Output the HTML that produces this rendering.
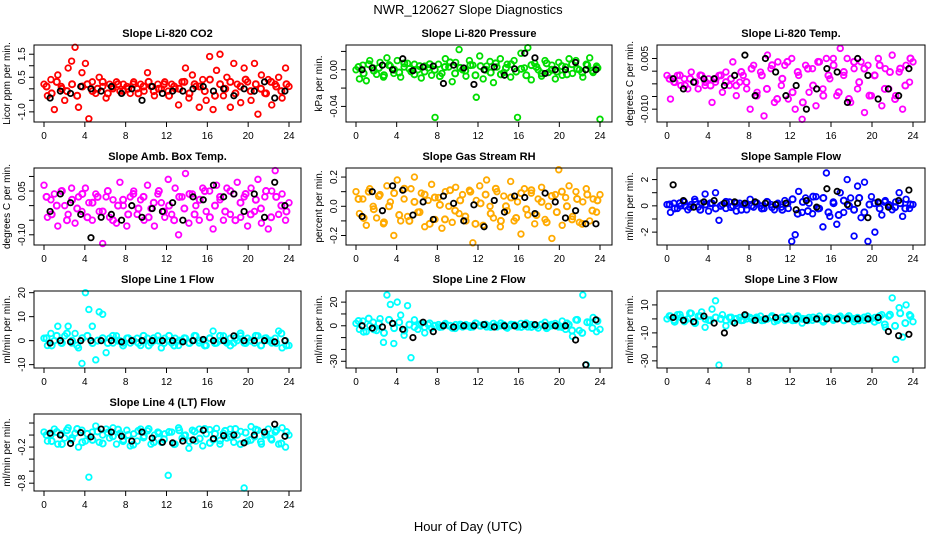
<!DOCTYPE html>
<html><head><meta charset="utf-8"><style>
html,body{margin:0;padding:0;background:#fff;}
svg{display:block;font-family:"Liberation Sans",Arial,sans-serif;}
</style></head><body>
<svg id="chart" width="936" height="540" viewBox="0 0 936 540" xmlns="http://www.w3.org/2000/svg">
<rect x="0" y="0" width="936" height="540" fill="#fff"/>
<text x="468" y="14" font-size="13" text-anchor="middle">NWR_120627  Slope Diagnostics</text>
<text x="468" y="531" font-size="13" text-anchor="middle">Hour of Day (UTC)</text>
</svg>
<script>
const blackHours=[0.6,1.6,2.6,3.6,4.6,5.6,6.6,7.6,8.6,9.6,10.6,11.6,12.6,13.6,14.6,15.6,16.6,17.6,18.6,19.6,20.6,21.6,22.6,23.6];
const xTicks=[0,4,8,12,16,20,24];

const co2Vals=[0.2,-0.3,0.4,-0.9,0.6,0.1,-0.5,0.9,1.2,1.8,-0.8,0.7,1.1,-1.3,0.3,-0.2,0.5,0.1,-0.4,0.2,0.0,0.3,-0.1,0.2,0.1,-0.2,0.3,0.0,0.2,-0.1,0.7,0.1,-0.3,0.2,0.0,0.3,-0.1,0.2,0.0,-0.7,0.3,0.9,-0.4,0.6,0.1,-0.8,0.4,-0.5,1.4,-0.9,0.8,1.5,-0.3,0.5,-0.8,1.1,0.2,-0.6,0.9,0.3,-0.5,1.1,-1.1,0.6,-0.2,0.4,-0.7,0.2,0.5,-0.4,0.9,0.1];
const co2Core=[0.1,-0.2,0.3,0.0,-0.1,0.2,-0.3,0.1,0.2,-0.1,0.0,0.3,-0.2,0.1,0.2,-0.1,0.0,0.2,-0.2,0.1,0.3,-0.1,0.0,0.2,-0.3,0.1,0.0,0.3,-0.2,0.2,0.1,-0.1,0.4,-0.3,0.2,0.0,0.3,-0.2,0.1,0.4,-0.1,0.2,0.0,-0.2,0.3,0.1,-0.1,0.2];
const co2Black=[-0.4,-0.1,-0.2,0.1,0.0,-0.1,0.1,-0.2,0.0,-0.5,0.1,-0.2,-0.1,-0.1,0.0,0.1,-0.1,0.0,-0.3,0.0,-0.1,0.3,-0.4,-0.1];

const presVals=[0.0,-0.01,0.005,-0.012,0.01,0.002,-0.005,0.008,-0.008,0.013,0.004,-0.004,0.01,-0.008,0.003,0.007,-0.002,0.006,0.0,-0.009,0.004,0.002,-0.006,-0.052,0.006,-0.004,0.012,0.003,-0.013,0.008,0.022,0.0,-0.007,0.01,0.005,-0.03,0.015,-0.01,0.004,0.009,-0.014,0.003,0.012,-0.003,0.006,-0.008,0.01,-0.052,0.018,0.002,0.024,-0.011,0.007,0.0,-0.007,0.01,-0.003,0.005,-0.01,0.008,-0.006,0.003,0.012,-0.004,0.01,0.0,-0.008,0.006,0.013,-0.003,0.004,-0.054];
const presCore=[0.003,-0.004,0.006,-0.001,0.002,-0.006,0.005,0.0,-0.003,0.007,0.001,-0.005,0.004,-0.002,0.006,0.0,-0.007,0.003,0.008,-0.004,0.002,-0.001,0.005,-0.006,0.004,0.0,-0.003,0.007,-0.005,0.002,0.006,-0.002,0.001,-0.006,0.005,0.003,-0.004,0.007,0.0,-0.002,0.004,-0.005,0.006,0.001,-0.003,0.005,-0.001,0.002];
const presBlack=[0.0,0.002,0.005,0.0,0.012,-0.001,0.003,0.004,-0.015,0.005,0.002,-0.016,0.0,0.003,-0.006,0.001,0.018,0.013,-0.004,0.0,0.0,0.008,0.0,0.0];

const liTempVals=[0.0,-0.007,-0.002,0.0,-0.003,-0.001,-0.004,0.001,-0.002,-0.004,0.0,-0.003,-0.001,-0.008,-0.002,0.0,-0.005,0.001,-0.003,0.004,-0.006,-0.002,0.0,-0.004,-0.01,0.003,-0.005,0.001,-0.012,0.006,0.002,-0.008,0.004,-0.003,0.003,-0.007,0.005,-0.01,0.0,-0.013,0.003,-0.005,0.002,-0.009,0.004,-0.004,0.005,-0.001,0.005,-0.006,0.008,0.0,0.005,-0.008,0.002,-0.004,0.004,-0.011,0.003,-0.006,0.0,0.005,-0.009,0.002,-0.004,0.006,-0.006,0.001,-0.01,0.003,-0.002,0.004];
const liTempCore=[-0.001,-0.002,0.0,-0.003,-0.001,-0.002,0.0,-0.002,-0.003,-0.001,0.0,-0.002,-0.001,-0.003,0.001,-0.002,0.002,-0.006,0.0,-0.004,0.003,-0.007,-0.001,0.004,-0.005,0.001,-0.008,0.002,-0.003,0.004,-0.006,0.0,0.003,-0.005,0.001,-0.007,0.004,-0.002,0.002,-0.006,0.0,0.003,-0.004,0.001,-0.007,0.002,-0.003,0.005];
const liTempBlack=[-0.001,-0.004,-0.002,-0.001,-0.001,-0.003,0.0,0.006,-0.006,0.005,0.001,-0.006,-0.003,-0.01,-0.004,0.002,0.001,-0.008,0.005,0.0,-0.007,-0.004,-0.006,0.002];

const ambVals=[0.07,-0.04,0.02,0.04,-0.07,0.05,0.0,-0.03,0.06,-0.06,0.03,-0.02,0.06,0.01,-0.05,0.04,-0.02,-0.13,0.03,-0.04,0.02,-0.06,0.08,0.0,-0.07,0.03,0.05,-0.03,0.02,-0.05,0.07,-0.01,-0.07,0.04,0.01,-0.04,0.09,-0.03,0.06,-0.1,0.03,0.11,-0.06,0.04,0.0,-0.05,0.06,-0.02,0.05,-0.08,0.07,0.02,-0.05,0.06,-0.03,0.04,0.08,-0.04,0.03,-0.07,0.06,-0.02,0.09,-0.06,0.03,-0.08,0.05,0.12,-0.03,0.04,-0.05,0.01];
const ambCore=[0.03,-0.03,0.0,0.05,-0.05,0.02,-0.01,0.04,-0.04,0.01,0.03,-0.02,0.05,-0.05,0.0,0.02,-0.03,0.04,-0.01,0.03,-0.04,0.01,0.05,-0.02,0.0,-0.05,0.03,-0.01,0.04,-0.03,0.02,0.05,-0.04,0.0,0.03,-0.02,0.05,-0.05,0.01,0.04,-0.03,0.02,-0.01,0.05,-0.04,0.03,0.0,-0.02];
const ambBlack=[-0.02,0.04,0.01,-0.03,-0.11,-0.04,-0.03,-0.05,0.0,-0.04,-0.01,-0.02,0.01,-0.05,0.03,0.02,0.07,0.03,0.04,-0.02,0.04,-0.04,0.08,0.0];

const rhVals=[0.1,-0.05,0.05,-0.13,0.12,0.0,-0.08,0.08,-0.12,0.14,0.03,-0.2,0.18,-0.1,0.05,-0.07,0.12,0.2,-0.04,0.09,-0.14,0.04,0.15,-0.09,0.06,-0.15,0.1,0.0,-0.11,0.13,-0.05,0.08,-0.1,0.11,-0.25,0.04,0.14,-0.13,0.18,0.0,-0.08,0.1,-0.14,0.07,-0.03,0.17,-0.1,0.03,-0.19,0.12,-0.06,0.09,-0.12,0.05,0.13,-0.09,0.0,-0.22,0.08,0.25,-0.13,0.06,0.14,-0.07,0.1,-0.11,0.03,0.12,-0.1,0.05,-0.04,0.08];
const rhCore=[0.05,-0.08,0.1,-0.02,0.07,-0.11,0.0,0.09,-0.06,0.12,-0.1,0.03,-0.04,0.08,-0.12,0.06,0.01,-0.09,0.11,-0.03,0.04,-0.07,0.1,-0.12,0.02,0.08,-0.05,0.12,-0.1,0.0,0.06,-0.08,0.09,-0.02,0.11,-0.06,0.03,-0.11,0.07,-0.04,0.1,0.0,-0.09,0.05,-0.12,0.08,-0.03,0.04];
const rhBlack=[-0.07,0.1,-0.03,0.14,0.11,-0.06,0.03,-0.09,0.07,0.02,-0.1,0.01,-0.14,0.04,-0.04,0.07,0.06,-0.05,0.09,0.03,-0.08,-0.03,-0.12,-0.12];

const sampleVals=[0.1,-0.5,0.2,-0.2,0.0,0.3,-0.3,0.1,0.5,-0.1,0.2,0.9,-0.4,0.2,1.0,-1.1,0.1,-0.2,0.3,0.0,-0.4,0.2,0.1,-0.3,0.5,-0.1,0.2,0.0,-0.2,0.3,0.1,-0.3,0.2,-0.1,0.4,-0.2,-2.7,-2.2,1.1,-0.5,0.6,0.2,-0.6,0.7,-0.2,-1.6,2.5,-0.8,0.3,-1.4,1.0,-0.5,2.0,0.6,-2.3,1.5,-0.9,1.8,-2.7,0.7,-2.0,0.2,-0.7,0.4,0.1,-0.3,0.3,1.0,-0.8,0.5,-0.2,0.1];
const sampleCore=[0.1,-0.2,0.2,0.0,-0.1,0.3,-0.3,0.1,0.2,-0.2,0.0,0.3,-0.1,0.2,-0.3,0.1,0.0,0.2,-0.2,0.3,-0.1,0.1,-0.3,0.2,0.5,-0.6,0.3,-0.4,0.7,-0.2,0.6,-0.5,0.2,-0.7,0.4,0.0,-0.3,0.6,-0.5,0.1,0.2,-0.2,0.3,0.0,-0.1,0.2,-0.2,0.1];
const sampleBlack=[1.6,0.4,-0.1,0.3,0.4,0.2,0.3,0.2,0.3,0.2,0.1,0.2,-0.3,0.4,-0.1,1.3,1.1,0.1,0.2,-0.9,0.3,-0.1,0.4,1.2];

const line1Vals=[1,-2,3,0,6,-1,2,6,-1,3,-3,-9.5,20,13,6,-8,12,11,-5,1,-1,2,0,-1,1,-1,0,1,-2,0,1,-1,0,2,-3,1,0,-1,1,-2,0,1,-1,0,2,-1,0,-2,1,4,-1,0,2,-1,1,-1,0,2,-1,1,0,-1,2,-2,1,0,-1,1,4,-3,0,-2];
const line1Core=[1,-2,2,-1,3,0,-2,1,2,-1,0,1,-1,2,0,-2,1,0,-1,2,-2,1,0,-1,2,-2,0,1,-1,2,0,-2,1,-1,2,0,-2,1,3,-1,0,2,-2,1,0,-1,3,-2];
const line1Black=[-1,0,-0.5,0,0,0,0,-0.5,0,0,0,0,0,-0.5,0,0.5,0,0,2,0,0,0,-0.5,0];

const line2Vals=[2,-3,4,-5,0,3,-4,6,-14,26,18,-15,20,9,-8,17,-27,5,-3,2,-6,1,-2,0,1,-1,2,0,-2,1,0,-1,1,0,-1,2,0,1,-1,0,2,-1,0,1,-2,0,1,-1,2,0,-1,1,0,-2,1,3,-1,0,2,-1,4,-3,1,-9,5,-4,26,-33,3,7,-5,-3];
const line2Core=[4,-5,6,-3,2,-6,5,-2,3,-4,1,-1,1,-1,2,0,-1,1,0,-2,1,0,-1,2,0,1,-1,0,2,-1,1,0,-1,2,-1,0,1,-2,1,0,-1,2,-4,5,-6,3,-2,4];
const line2Black=[0,-2,-1,2,-3,-10,3,-5,0,-1,0,0,1,-1,0,0,1,1,0,0,0,-12,-33,5];

const line3Vals=[0,2,-1,3,1,-2,0,4,-3,2,5,-6,-1,7,13,-33,3,-5,1,-2,0,1,-1,0,1,-1,0,2,-1,0,1,-2,0,1,-1,2,0,-1,1,-3,0,1,-1,0,2,-1,0,1,-1,0,2,-1,1,0,-2,1,0,-1,2,0,1,-1,3,-6,2,15,-29,8,-13,10,3,-2];
const line3Core=[2,-2,3,-1,4,-3,2,0,-1,1,0,-1,1,0,-1,2,0,1,-1,0,2,-1,1,0,-1,2,0,-1,1,0,-2,1,0,1,-1,2,0,-1,1,0,-2,2,-4,3,-5,4,-3,2];
const line3Black=[1,-1,-2,2,-3,-10,-3,3,-1,0,1,0,0,-1,0,0,0,0,0,0,1,-9,-12,-11];

const line4Vals=[0.05,-0.1,0.0,0.1,-0.15,0.02,-0.05,0.12,-0.08,0.03,-0.2,0.08,-0.1,-0.7,0.05,0.15,-0.12,0.0,0.1,-0.05,0.12,-0.15,0.03,-0.08,0.08,-0.18,0.02,-0.1,0.1,-0.02,0.07,-0.15,0.0,0.05,-0.12,0.02,-0.67,0.05,-0.15,0.12,-0.05,0.0,-0.22,0.08,-0.1,0.1,-0.18,0.02,0.09,-0.08,0.11,-0.15,0.03,-0.05,0.1,-0.12,0.0,0.06,-0.88,-0.1,0.14,-0.03,0.08,-0.15,0.0,0.1,-0.08,0.05,-0.15,0.12,-0.2,0.0];
const line4Core=[0.0,-0.1,0.05,-0.15,0.08,-0.05,0.1,-0.12,0.02,-0.08,0.06,-0.14,0.04,-0.02,0.09,-0.1,0.0,-0.16,0.07,-0.04,0.1,-0.12,0.03,-0.07,0.05,-0.15,0.08,-0.01,-0.1,0.06,-0.06,0.1,-0.13,0.02,-0.09,0.07,-0.03,0.1,-0.15,0.04,-0.08,0.09,-0.11,0.01,-0.06,0.08,-0.14,0.05];
const line4Black=[0.03,0.0,-0.14,0.04,-0.03,0.1,0.05,-0.02,-0.1,0.05,-0.05,-0.12,-0.13,-0.1,-0.08,0.08,-0.06,-0.01,0.0,-0.13,0.0,0.05,0.18,-0.02];

const panels=[
 {name:'co2',title:'Slope Li-820 CO2',ylab:'Licor ppm per min.',col:0,row:0,ymin:-1.44,ymax:1.9,ticks:[-1,-0.5,0,0.5,1,1.5],labels:{'1.5':'1.5','0.5':'0.5','-1':'-1.0'},color:'#ff0000',vals:co2Vals,core:co2Core,black:co2Black},
 {name:'pressure',title:'Slope Li-820 Pressure',ylab:'kPa per min.',col:1,row:0,ymin:-0.057,ymax:0.027,ticks:[-0.04,-0.02,0,0.02],labels:{'0':'0.00','-0.04':'-0.04'},color:'#00dd00',vals:presVals,core:presCore,black:presBlack},
 {name:'li-temp',title:'Slope Li-820 Temp.',ylab:'degrees C per min.',col:2,row:0,ymin:-0.0138,ymax:0.009,ticks:[0.005,0.00125,-0.0025,-0.00625,-0.01],labels:{'0.005':'0.005','-0.01':'-0.010'},color:'#ff00ff',vals:liTempVals,core:liTempCore,black:liTempBlack},
 {name:'amb-temp',title:'Slope Amb. Box Temp.',ylab:'degrees C per min.',col:0,row:1,ymin:-0.135,ymax:0.129,ticks:[-0.1,-0.05,0,0.05,0.1],labels:{'0.05':'0.05','-0.1':'-0.10'},color:'#ff00ff',vals:ambVals,core:ambCore,black:ambBlack},
 {name:'rh',title:'Slope Gas Stream RH',ylab:'percent per min.',col:1,row:1,ymin:-0.265,ymax:0.262,ticks:[-0.2,-0.1,0,0.1,0.2],labels:{'0.2':'0.2','0':'0.0','-0.2':'-0.2'},color:'#ffaa00',vals:rhVals,core:rhCore,black:rhBlack},
 {name:'sample-flow',title:'Slope Sample Flow',ylab:'ml/min per min.',col:2,row:1,ymin:-2.98,ymax:2.88,ticks:[-2,-1,0,1,2],labels:{'2':'2','0':'0','-2':'-2'},color:'#0000ff',vals:sampleVals,core:sampleCore,black:sampleBlack},
 {name:'line1-flow',title:'Slope Line 1 Flow',ylab:'ml/min per min.',col:0,row:2,ymin:-11.4,ymax:20.7,ticks:[-10,0,10,20],labels:{'20':'20','10':'10','0':'0','-10':'-10'},color:'#00ffff',vals:line1Vals,core:line1Core,black:line1Black},
 {name:'line2-flow',title:'Slope Line 2 Flow',ylab:'ml/min per min.',col:1,row:2,ymin:-35.7,ymax:29.4,ticks:[-30,-20,-10,0,10,20],labels:{'20':'20','0':'0','-30':'-30'},color:'#00ffff',vals:line2Vals,core:line2Core,black:line2Black},
 {name:'line3-flow',title:'Slope Line 3 Flow',ylab:'ml/min per min.',col:2,row:2,ymin:-35.1,ymax:19.95,ticks:[-30,-20,-10,0,10],labels:{'10':'10','-10':'-10','-30':'-30'},color:'#00ffff',vals:line3Vals,core:line3Core,black:line3Black},
 {name:'line4-flow',title:'Slope Line 4 (LT) Flow',ylab:'ml/min per min.',col:0,row:3,ymin:-0.93,ymax:0.35,ticks:[0.2,0,-0.2,-0.4,-0.6,-0.8],labels:{'-0.2':'-0.2','-0.8':'-0.8'},color:'#00ffff',vals:line4Vals,core:line4Core,black:line4Black}
];

const NS='http://www.w3.org/2000/svg';
const svg=document.getElementById('chart');
const colLeft=[34,346,657], colRight=[301,612,925];
const rowTop=[45,168,291,414], rowBottom=[122,245,368,491];
function mk(tag,attrs,parent){const e=document.createElementNS(NS,tag);for(const k in attrs)e.setAttribute(k,attrs[k]);parent.appendChild(e);return e;}

panels.forEach(p=>{
  const L=colLeft[p.col],R=colRight[p.col],T=rowTop[p.row],B=rowBottom[p.row];
  const x0=L+10,x1=R-12;
  const xs=h=>x0+(h/24)*(x1-x0);
  const ys=v=>B-(v-p.ymin)/(p.ymax-p.ymin)*(B-T);
  const g=mk('g',{},svg);
  
  
  const t=mk('text',{x:(L+R)/2,y:T-8,'font-size':11,'font-weight':'bold','text-anchor':'middle'},g);
  t.textContent=p.title;
  
  
  const yl=mk('text',{x:0,y:0,'font-size':10,'text-anchor':'middle',transform:`translate(${L-24},${(T+B)/2}) rotate(-90)`},g);
  yl.textContent=p.ylab;
  
  
  const pg=mk('g',{},g);
  
  
  const nc=p.core.length;
  p.core.forEach((v,i)=>{
    const c=mk('circle',{cx:xs((i+0.5)*24/nc),cy:ys(v),r:3,fill:'none',stroke:p.color,'stroke-width':2},pg);
    
    
  });
  const n=p.vals.length;
  p.vals.forEach((v,i)=>{
    const c=mk('circle',{cx:xs(i*24/(n-1)),cy:ys(v),r:2.8,fill:'none',stroke:p.color,'stroke-width':1.8},pg);
    
    
  });
  const bg=mk('g',{},g);
  
  
  p.black.forEach((v,i)=>{
    const c=mk('circle',{cx:xs(blackHours[i]),cy:ys(v),r:2.7,fill:'none',stroke:'#000','stroke-width':1.8},bg);
    
    
  });
  const bx=mk('rect',{x:L,y:T,width:R-L,height:B-T,fill:'none',stroke:'#000','stroke-width':1},g);
  
  
  xTicks.forEach(h=>{
    mk('line',{x1:xs(h),x2:xs(h),y1:B,y2:B+5,stroke:'#000'},g);
    const tl=mk('text',{x:xs(h),y:B+17,'font-size':10,'text-anchor':'middle'},g);
    tl.textContent=h;
    
    
  });
  p.ticks.forEach(v=>{
    mk('line',{x1:L-5,x2:L,y1:ys(v),y2:ys(v),stroke:'#000'},g);
    const lab=p.labels[String(v)];
    if(lab!==undefined){
      const tl=mk('text',{x:0,y:0,'font-size':10,'text-anchor':'middle',transform:`translate(${L-9},${ys(v)}) rotate(-90)`},g);
      tl.textContent=lab;
      
      
    }
  });
});
</script>
</body></html>
